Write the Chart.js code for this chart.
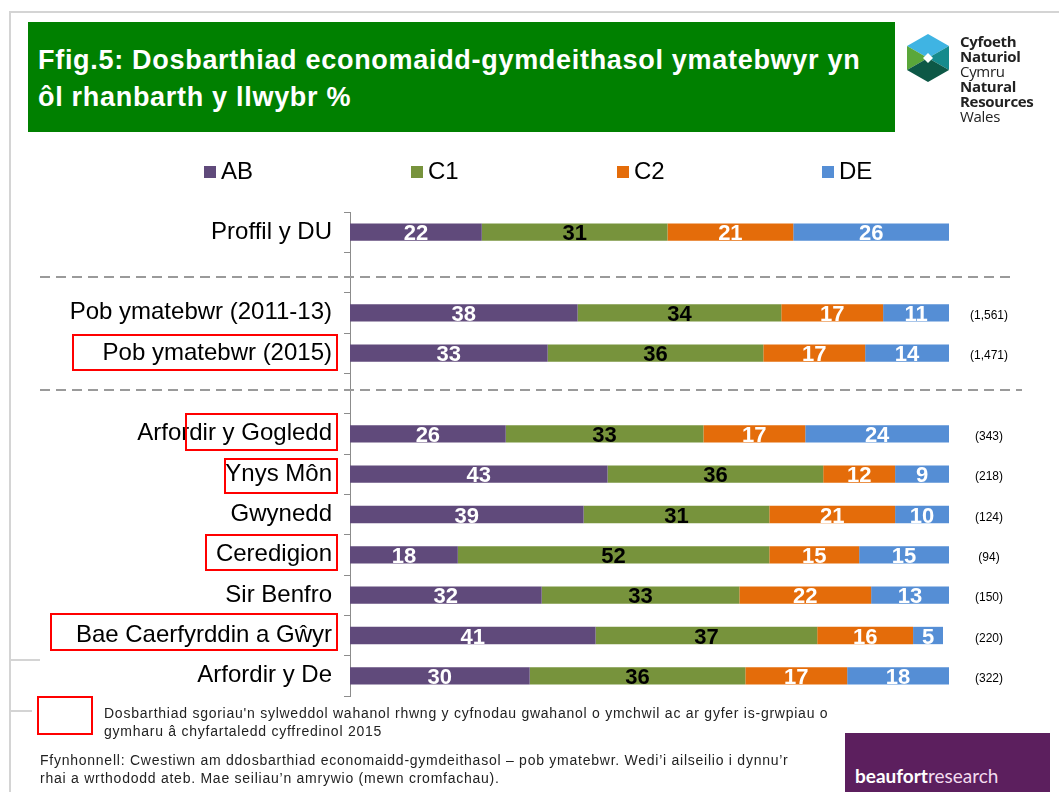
<!DOCTYPE html>
<html>
<head>
<meta charset="utf-8">
<script src="https://cdn.jsdelivr.net/npm/chart.js@4.4.1/dist/chart.umd.min.js"></script>
<style>
    html, body { margin: 0; padding: 0; background: #fff; }
    #slide { position: relative; width: 1059px; height: 792px; overflow: hidden; font-family: "Liberation Sans", Arial, sans-serif; }
    #chart { position: absolute; left: 0; top: 0; }
    .line-h { position: absolute; height: 2px; background: #d4d4d4; }
    .line-v { position: absolute; width: 2px; background: #d4d4d4; }
    #titleBox { position: absolute; left: 28px; top: 22px; width: 867px; height: 110px; background: #008000; }
    #titleBox div { position: absolute; left: 10px; top: 20px; color: #fff; font-weight: bold; font-size: 27px; letter-spacing: 0.7px; line-height: 37px; white-space: nowrap; }
    #logo { position: absolute; left: 900px; top: 28px; width: 150px; height: 100px; }
    #logoText { position: absolute; left: 960px; top: 34px; font-family: "Open Sans", Arial, sans-serif; font-size: 15px; line-height: 15px; color: #222; letter-spacing: -0.3px; }
    #logoText b { font-weight: bold; }
    .hl { position: absolute; border: 2px solid #ff0000; box-sizing: border-box; }
    .note { position: absolute; font-size: 14px; letter-spacing: 0.75px; line-height: 18px; color: #222; white-space: nowrap; }
    #beaufort { position: absolute; left: 845px; top: 733px; width: 205px; height: 59px; background: #5c1f5e; }
    #beaufort span { position: absolute; left: 10px; top: 31px; font-family: Lato, "Open Sans", sans-serif; font-size: 19px; color: #fff; white-space: nowrap; }
    #beaufort i { font-style: normal; font-weight: normal; color: #f3dcef; }
</style>
</head>
<body>
<div id="slide">
    <canvas id="chart" width="1059" height="792"></canvas>

    <div class="line-h" style="left:10px; top:11px; width:1049px;"></div>
    <div class="line-v" style="left:9px; top:11px; height:781px;"></div>
    <div class="line-h" style="left:10px; top:659px; width:30px;"></div>
    <div class="line-h" style="left:10px; top:710px; width:22px;"></div>

    <div id="titleBox">
        <div>Ffig.5: Dosbarthiad economaidd-gymdeithasol ymatebwyr yn<br>ôl rhanbarth y llwybr %</div>
    </div>

    <svg id="logo" viewBox="0 0 150 100">
        <polygon points="7,18 28,6 49,18 28,30" fill="#3fb4e3"/>
        <polygon points="49,18 49,42 28,30" fill="#158a8c"/>
        <polygon points="7,18 28,30 7,42" fill="#5aa73a"/>
        <polygon points="7,42 28,30 49,42 28,54" fill="#0d5846"/>
        <polygon points="28,25 33,30 28,35 23,30" fill="#fff"/>
    </svg>
    <div id="logoText"><b>Cyfoeth</b><br><b>Naturiol</b><br>Cymru<br><b>Natural</b><br><b>Resources</b><br>Wales</div>

    <div class="hl" style="left:72px; top:334px; width:266px; height:37px;"></div>
    <div class="hl" style="left:185px; top:413px; width:153px; height:38px;"></div>
    <div class="hl" style="left:224px; top:458px; width:114px; height:36px;"></div>
    <div class="hl" style="left:205px; top:534px; width:133px; height:37px;"></div>
    <div class="hl" style="left:50px; top:613px; width:288px; height:38px;"></div>
    <div class="hl" style="left:37px; top:696px; width:56px; height:39px;"></div>

    <div class="note" style="left:104px; top:704px;">Dosbarthiad sgoriau'n sylweddol wahanol rhwng y cyfnodau gwahanol o ymchwil ac ar gyfer is-grwpiau o<br>gymharu â chyfartaledd cyffredinol 2015</div>
    <div class="note" style="left:40px; top:751px;">Ffynhonnell: Cwestiwn am ddosbarthiad economaidd-gymdeithasol – pob ymatebwr. Wedi’i ailseilio i dynnu’r<br>rhai a wrthododd ateb. Mae seiliau’n amrywio (mewn cromfachau).</div>

    <div id="beaufort"><span><b>beaufort</b><i>research</i></span></div>
</div>

<script>
// data
const categories = ['Proffil y DU', '', 'Pob ymatebwr (2011-13)', 'Pob ymatebwr (2015)', '',
    'Arfordir y Gogledd', 'Ynys Môn', 'Gwynedd', 'Ceredigion', 'Sir Benfro', 'Bae Caerfyrddin a Gŵyr', 'Arfordir y De'];
const seriesNames = ['AB', 'C1', 'C2', 'DE'];
const abValues = [22, null, 38, 33, null, 26, 43, 39, 18, 32, 41, 30];
const c1Values = [31, null, 34, 36, null, 33, 36, 31, 52, 33, 37, 36];
const c2Values = [21, null, 17, 17, null, 17, 12, 21, 15, 22, 16, 17];
const deValues = [26, null, 11, 14, null, 24, 9, 10, 15, 13, 5, 18];
const baseSizes = ['', '', '(1,561)', '(1,471)', '', '(343)', '(218)', '(124)', '(94)', '(150)', '(220)', '(322)'];

const seriesColors = ['#604a7b', '#77933c', '#e46c0a', '#558ed5'];
const labelColors = ['#fff', '#000', '#fff', '#fff'];
const legendX = [204, 411, 617, 822];

document.addEventListener('DOMContentLoaded', () => {
    const allValues = [abValues, c1Values, c2Values, deValues];

    // value labels in the middle of every segment
    const segmentLabels = {
        id: 'segmentLabels',
        afterDatasetsDraw(chart) {
            const ctx = chart.ctx;
            ctx.save();
            ctx.font = 'bold 22px "Liberation Sans Narrow", "Arial Narrow", Arial';
            ctx.textAlign = 'center';
            ctx.textBaseline = 'middle';
            chart.data.datasets.forEach((ds, i) => {
                chart.getDatasetMeta(i).data.forEach((bar, j) => {
                    if (ds.data[j] == null) return;
                    const right = Math.min(bar.x, chart.chartArea.right);
                    ctx.fillStyle = labelColors[i];
                    ctx.fillText(ds.data[j], (right + bar.base) / 2, bar.y + 2);
                });
            });
            ctx.restore();
        }
    };

    // legend, dashed separators and base sizes
    const extras = {
        id: 'extras',
        afterDraw(chart) {
            const ctx = chart.ctx;
            const y = chart.scales.y;
            ctx.save();

            ctx.font = '24px Arial';
            ctx.textBaseline = 'middle';
            ctx.textAlign = 'left';
            chart.data.datasets.forEach((ds, i) => {
                ctx.fillStyle = ds.backgroundColor;
                ctx.fillRect(legendX[i], 166, 12, 12);
                ctx.fillStyle = '#000';
                ctx.fillText(ds.label, legendX[i] + 17, 172);
            });

            // separators sit a little inside the gap between the groups
            ctx.strokeStyle = '#9a9a9a';
            ctx.lineWidth = 2;
            ctx.setLineDash([10, 6]);
            const gaps = categories.map((c, i) => c === '' ? i : -1).filter(i => i >= 0);
            gaps.forEach((idx, k) => {
                const py = Math.round(y.getPixelForValue(idx)) + (k === 0 ? 4 : -4);
                ctx.beginPath();
                ctx.moveTo(40, py);
                ctx.lineTo(k === 0 ? 1014 : 1022, py);
                ctx.stroke();
            });
            ctx.setLineDash([]);

            ctx.font = '12px Arial';
            ctx.textAlign = 'center';
            ctx.fillStyle = '#000';
            baseSizes.forEach((s, i) => {
                if (!s) return;
                ctx.fillText(s, 989, y.getPixelForValue(i) + 3);
            });
            ctx.restore();
        }
    };

    new Chart(document.getElementById('chart'), {
        type: 'bar',
        data: {
            labels: categories,
            datasets: seriesNames.map((name, i) => ({
                label: name,
                data: allValues[i],
                backgroundColor: seriesColors[i],
                borderWidth: 0,
                categoryPercentage: 1,
                barPercentage: 0.43
            }))
        },
        options: {
            indexAxis: 'y',
            responsive: false,
            animation: false,
            layout: { padding: { top: 212, bottom: 96, left: 0, right: 110 } },
            plugins: {
                legend: { display: false },
                tooltip: { enabled: false }
            },
            scales: {
                x: { stacked: true, min: 0, max: 100, display: false },
                y: {
                    stacked: true,
                    afterFit: (scale) => { scale.width = 350; },
                    grid: { drawOnChartArea: false, color: '#8c8c8c', tickLength: 6 },
                    border: { color: '#8c8c8c', width: 1 },
                    ticks: { color: '#000', font: { family: 'Arial', size: 24 }, padding: 12, autoSkip: false }
                }
            }
        },
        plugins: [segmentLabels, extras]
    });
});
</script>
</body>
</html>
